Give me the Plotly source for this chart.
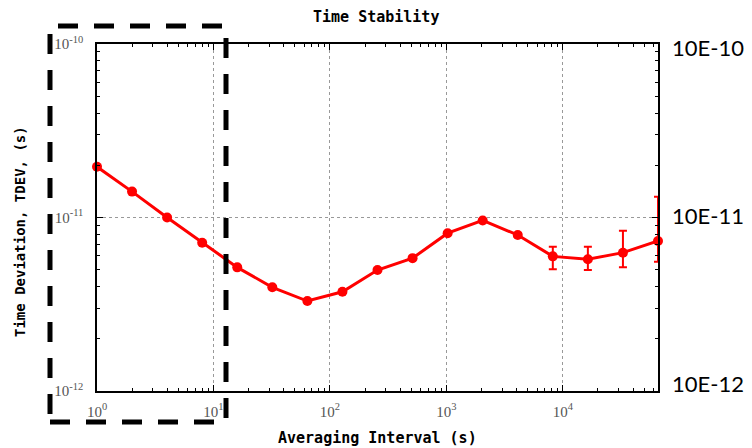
import plotly.graph_objects as go
import math

# Data
taus = [1, 2, 4, 8, 16, 32, 64, 128, 256, 512, 1024, 2048, 4096, 8192, 16384, 32768, 65536]
tdev = [1.96e-11, 1.41e-11, 1.00e-11, 7.16e-12, 5.16e-12, 3.96e-12, 3.30e-12, 3.73e-12,
        4.98e-12, 5.83e-12, 8.12e-12, 9.62e-12, 7.93e-12, 5.97e-12, 5.74e-12, 6.27e-12, 7.32e-12]
err_plus = [0, 0, 0, 0, 0, 0, 0, 0, 0, 0, 0, 0, 0.2e-12, 0.82e-12, 1.05e-12, 2.12e-12, 5.86e-12]
err_minus = [0, 0, 0, 0, 0, 0, 0, 0, 0, 0, 0, 0, 0.2e-12, 0.94e-12, 0.76e-12, 1.11e-12, 1.76e-12]

x_tickvals = [1, 10, 100, 1000, 10000]
x_ticktext = ["10<sup>0</sup>", "10<sup>1</sup>", "10<sup>2</sup>", "10<sup>3</sup>", "10<sup>4</sup>"]
y_tickvals = [1e-12, 1e-11, 1e-10]
y_ticktext = ["10<sup>-12</sup>", "10<sup>-11</sup>", "10<sup>-10</sup>"]
right_labels = ["10E-10", "10E-11", "10E-12"]
right_label_vals = [1e-10, 1e-11, 1e-12]

title = "Time Stability"
xtitle = "Averaging Interval (s)"
ytitle = "Time Deviation, TDEV, (s)"

# page offset (browser body margin)
OFF = 8
W, H = 752 - OFF, 448 - OFF
L, R, T, B = 97 - OFF, 94, 44 - OFF, 57
pw, ph = W - L - R, H - T - B

def px_x(px):
    return (px - OFF - L) / pw

def px_y(py):
    return (H - B - (py - OFF)) / ph

fig = go.Figure()
fig.add_trace(go.Scatter(
    x=taus, y=tdev, mode="lines+markers",
    line=dict(color="#ff0000", width=3),
    marker=dict(color="#ff0000", size=10, symbol="circle"),
    error_y=dict(type="data", symmetric=False, array=err_plus, arrayminus=err_minus,
                 color="#ff0000", thickness=2, width=4),
    showlegend=False, cliponaxis=False,
))

mono = "DejaVu Sans Mono"
serif = "Liberation Serif"

fig.update_layout(
    width=W, height=H,
    margin=dict(l=L, r=R, t=T, b=B),
    paper_bgcolor="white", plot_bgcolor="white",
    xaxis=dict(
        type="log", range=[0, math.log10(65536)],
        tickmode="array", tickvals=x_tickvals, ticktext=x_ticktext,
        ticks="inside", ticklen=6, tickcolor="black",
        showline=True, linecolor="black", linewidth=1.5, mirror="allticks",
        showgrid=True, gridcolor="#999999", griddash="dot", gridwidth=1,
        tickfont=dict(family=serif, size=15, color="#555555"),
        ticklabelstandoff=6,
        minor=dict(ticks="inside", ticklen=3, tickcolor="black", dtick="D1", showgrid=False),
        zeroline=False,
    ),
    yaxis=dict(
        type="log", range=[-12, -10],
        tickmode="array", tickvals=y_tickvals, ticktext=y_ticktext,
        ticks="inside", ticklen=6, tickcolor="black",
        showline=True, linecolor="black", linewidth=1.5, mirror="allticks",
        showgrid=True, gridcolor="#999999", griddash="dot", gridwidth=1,
        tickfont=dict(family=serif, size=15, color="#555555"),
        ticklabelstandoff=9,
        minor=dict(ticks="inside", ticklen=3, tickcolor="black", dtick="D1", showgrid=False),
        zeroline=False,
    ),
)

annotations = [
    dict(text="<b>" + title + "</b>", x=px_x(376), y=px_y(17), xref="paper", yref="paper",
         xanchor="center", yanchor="middle",
         showarrow=False, font=dict(family=mono, size=15, color="black")),
    dict(text="<b>" + xtitle + "</b>", x=px_x(377), y=px_y(438), xref="paper", yref="paper",
         xanchor="center", yanchor="middle",
         showarrow=False, font=dict(family=mono, size=15, color="black")),
    dict(text="<b>" + ytitle + "</b>", x=px_x(20), y=px_y(232), xref="paper", yref="paper",
         xanchor="center", yanchor="middle",
         showarrow=False, textangle=-90, font=dict(family=mono, size=14, color="black")),
]
shifts = {1e-10: -3, 1e-11: 2, 1e-12: 8}
for lab, v in zip(right_labels, right_label_vals):
    annotations.append(dict(text=lab, x=1.0, xref="paper", y=math.log10(v), yref="y",
                            xanchor="left", yanchor="middle", xshift=12, yshift=shifts[v],
                            showarrow=False, font=dict(family="Lato", size=22, color="black")))
fig.update_layout(annotations=annotations)

fig.add_shape(type="rect", xref="paper", yref="paper",
              x0=px_x(50), x1=px_x(226), y0=px_y(422), y1=px_y(26),
              line=dict(color="black", width=5, dash="20px,16px"), layer="above")

fig.write_html("out.html")
